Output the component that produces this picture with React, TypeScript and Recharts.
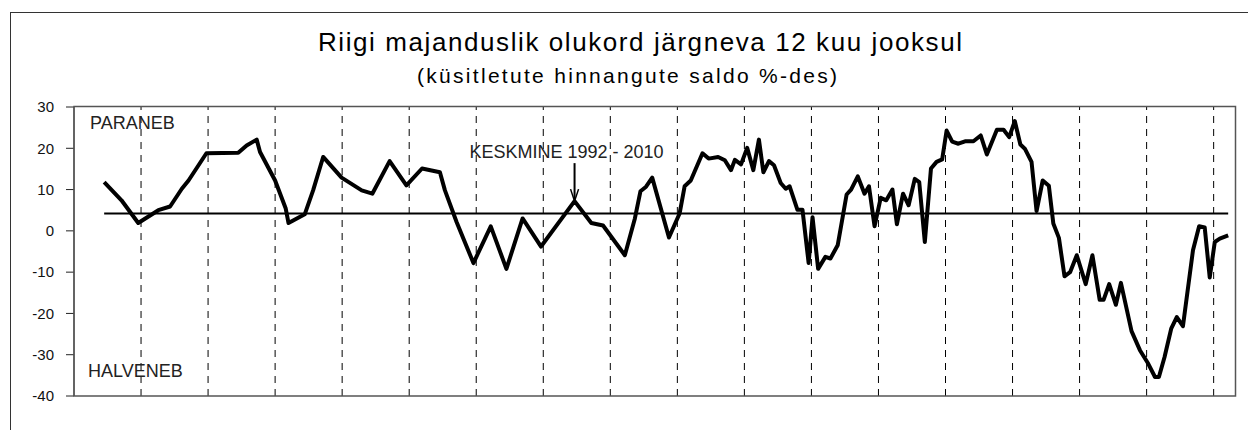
import React from "react"
import {
  LineChart,
  Line,
  XAxis,
  YAxis,
  ReferenceLine,
  ReferenceDot,
} from "recharts"

// months since Jan 1993 (early years are quarterly, later monthly)
const months = [
  5.4, 8.5, 11.5, 15.1, 17.2, 19.3, 20.5, 23.7, 29.4, 30.9, 32.7, 33.3, 36.0,
  37.9, 38.4, 41.3, 42.8, 44.6, 47.9, 51.5, 53.4, 56.5, 59.5, 62.3, 65.5, 66.4,
  68.5, 71.5, 74.6, 77.4, 80.3, 83.6, 89.6, 92.6, 94.7, 98.6, 100.4, 101.4,
  102.4, 103.5, 106.5, 108.4, 109.3, 110.4, 112.5, 113.6, 115.3, 116.5, 117.6,
  118.3, 119.4, 120.5, 121.6, 122.6, 123.4, 124.4, 125.3, 126.5, 127.4, 128.1,
  129.5, 130.4, 131.5, 132.2, 133.2, 134.5, 135.4, 136.7, 138.3, 139.1, 140.3,
  141.5, 142.3, 143.3, 144.4, 145.4, 146.5, 147.3, 148.4, 149.4, 150.5, 151.3,
  152.3, 153.4, 154.4, 155.4, 156.2, 157.2, 158.3, 159.5, 161.0, 162.3, 163.4,
  165.2, 166.4, 167.4, 168.4, 169.4, 170.2, 171.4, 172.3, 173.4, 174.5, 175.3,
  176.3, 177.3, 178.3, 179.5, 181.1, 182.3, 183.6, 184.3, 185.3, 186.5, 187.4,
  189.3, 190.8, 192.3, 193.5, 194.2, 195.2, 196.4, 197.4, 198.5, 200.3, 201.4,
  202.4, 203.3, 204.2, 205.1, 206.6,
]

// saldo, %
const saldo = [
  11.8, 7.4, 1.9, 5.0, 5.9, 10.2, 12.2, 18.8, 18.9, 20.7, 22.1, 19.1, 12.2,
  5.4, 1.9, 4.0, 9.8, 17.9, 12.9, 9.8, 9.0, 16.9, 11.0, 15.1, 14.2, 9.8,
  2.1, -7.8, 1.1, -9.2, 3.0, -3.8, 7.2, 1.9, 1.3, -5.9, 3.0, 9.6,
  10.7, 12.9, -1.6, 4.2, 10.8, 12.2, 18.8, 17.5, 17.9, 17.1, 14.7,
  17.2, 16.1, 20.1, 14.7, 22.1, 14.2, 16.9, 15.9, 11.6, 10.2, 10.8,
  5.1, 5.1, -7.8, 3.3, -9.2, -6.3, -6.7, -3.5, 8.8, 10.0, 13.2,
  9.0, 10.8, 1.1, 8.0, 7.4, 10.0, 1.6, 9.0, 6.2, 12.6, 11.8,
  -2.7, 15.1, 16.7, 17.3, 24.3, 21.6, 21.1, 21.7, 21.7, 23.1, 18.5,
  24.5, 24.5, 22.7, 26.6, 20.9, 19.9, 16.7, 4.8, 12.2, 10.9, 1.8,
  -1.7, -11.0, -10.0, -5.9, -12.9, -5.9, -16.7, -16.7, -12.9, -17.9, -12.6,
  -24.3, -28.9, -32.2, -35.4, -35.4, -30.6, -23.7, -20.9, -23.1, -4.7, 1.1,
  0.8, -11.3, -2.7, -1.9, -1.1,
]

const keskmine = 4.2
const noteIndex = 32
const years = [1994, 1995, 1996, 1997, 1998, 1999, 2000, 2001, 2002, 2003, 2004, 2005, 2006, 2007, 2008, 2009, 2010]
const yTicks = [30, 20, 10, 0, -10, -20, -30, -40]

const data = months.map((t, i) => ({ t, v: saldo[i] }))
const yearTicks = years.map((y) => (y - 1993) * 12)

const font = "'Liberation Sans', Arial, sans-serif"

const NoteArrow = (props: any) => {
  const { cx, cy } = props
  if (cx == null || cy == null) return null
  return (
    <g>
      <line x1={cx} y1={cy - 38} x2={cx} y2={cy - 2} stroke="#000" strokeWidth={2} />
      <path d={`M${cx - 4},${cy - 12} L${cx},${cy} L${cx + 4},${cy - 12}`} fill="none" stroke="#000" strokeWidth={1.5} />
      <text x={cx - 8} y={cy - 43} textAnchor="middle" fontSize={18} fontFamily={font} fill="#222">
        KESKMINE 1992 - 2010
      </text>
    </g>
  )
}

export default function App() {
  return (
    <div style={{ position: "absolute", left: 0, top: 0, width: 1248, height: 430, background: "#fff", overflow: "hidden" }}>
      <div style={{ position: "absolute", left: 10, top: 12, width: 1400, height: 600, border: "1px solid #333" }} />
      <LineChart
        width={1248}
        height={430}
        data={data}
        margin={{ top: 107, right: 12, bottom: 34, left: 14 }}
        style={{ position: "absolute", left: 0, top: 0 }}
      >
        <XAxis
          dataKey="t"
          type="number"
          domain={[0, 208]}
          ticks={yearTicks}
          interval={0}
          tick={false}
          tickLine={false}
          height={0}
          axisLine={{ stroke: "#444" }}
        />
        <YAxis
          type="number"
          domain={[-40, 30]}
          ticks={yTicks}
          interval={0}
          width={60}
          tickSize={8}
          tickMargin={12}
          axisLine={{ stroke: "#222" }}
          tickLine={{ stroke: "#222" }}
          tick={{ fill: "#111", fontSize: 15, fontFamily: font }}
        />
        {yearTicks.map((m) => (
          <ReferenceLine key={m} x={m} stroke="#000" strokeDasharray="7 6" />
        ))}
        <ReferenceLine
          segment={[
            { x: months[0], y: keskmine },
            { x: months[months.length - 1], y: keskmine },
          ]}
          stroke="#000"
          strokeWidth={2}
        />
        <Line
          dataKey="v"
          type="linear"
          stroke="#000"
          strokeWidth={4}
          strokeLinejoin="round"
          dot={false}
          isAnimationActive={false}
        />
        <ReferenceDot x={months[noteIndex]} y={saldo[noteIndex]} r={0} shape={NoteArrow} />
      </LineChart>
      <svg width={1248} height={430} style={{ position: "absolute", left: 0, top: 0, pointerEvents: "none" }}>
        {/* plot frame */}
        <rect x={74} y={106.5} width={1161.5} height={289.5} fill="none" stroke="#555" strokeWidth={1.5} />
        <text x={640} y={51} textAnchor="middle" fontSize={26} textLength={644} lengthAdjust="spacing" fontFamily={font} fill="#000">
          Riigi majanduslik olukord järgneva 12 kuu jooksul
        </text>
        <text x={627} y={83} textAnchor="middle" fontSize={21} textLength={420} lengthAdjust="spacing" fontFamily={font} fill="#000">
          (küsitletute hinnangute saldo %-des)
        </text>
        <text x={90} y={129} fontSize={18} fontFamily={font} fill="#222">
          PARANEB
        </text>
        <text x={88} y={377} fontSize={18} fontFamily={font} fill="#222">
          HALVENEB
        </text>
      </svg>
    </div>
  )
}
